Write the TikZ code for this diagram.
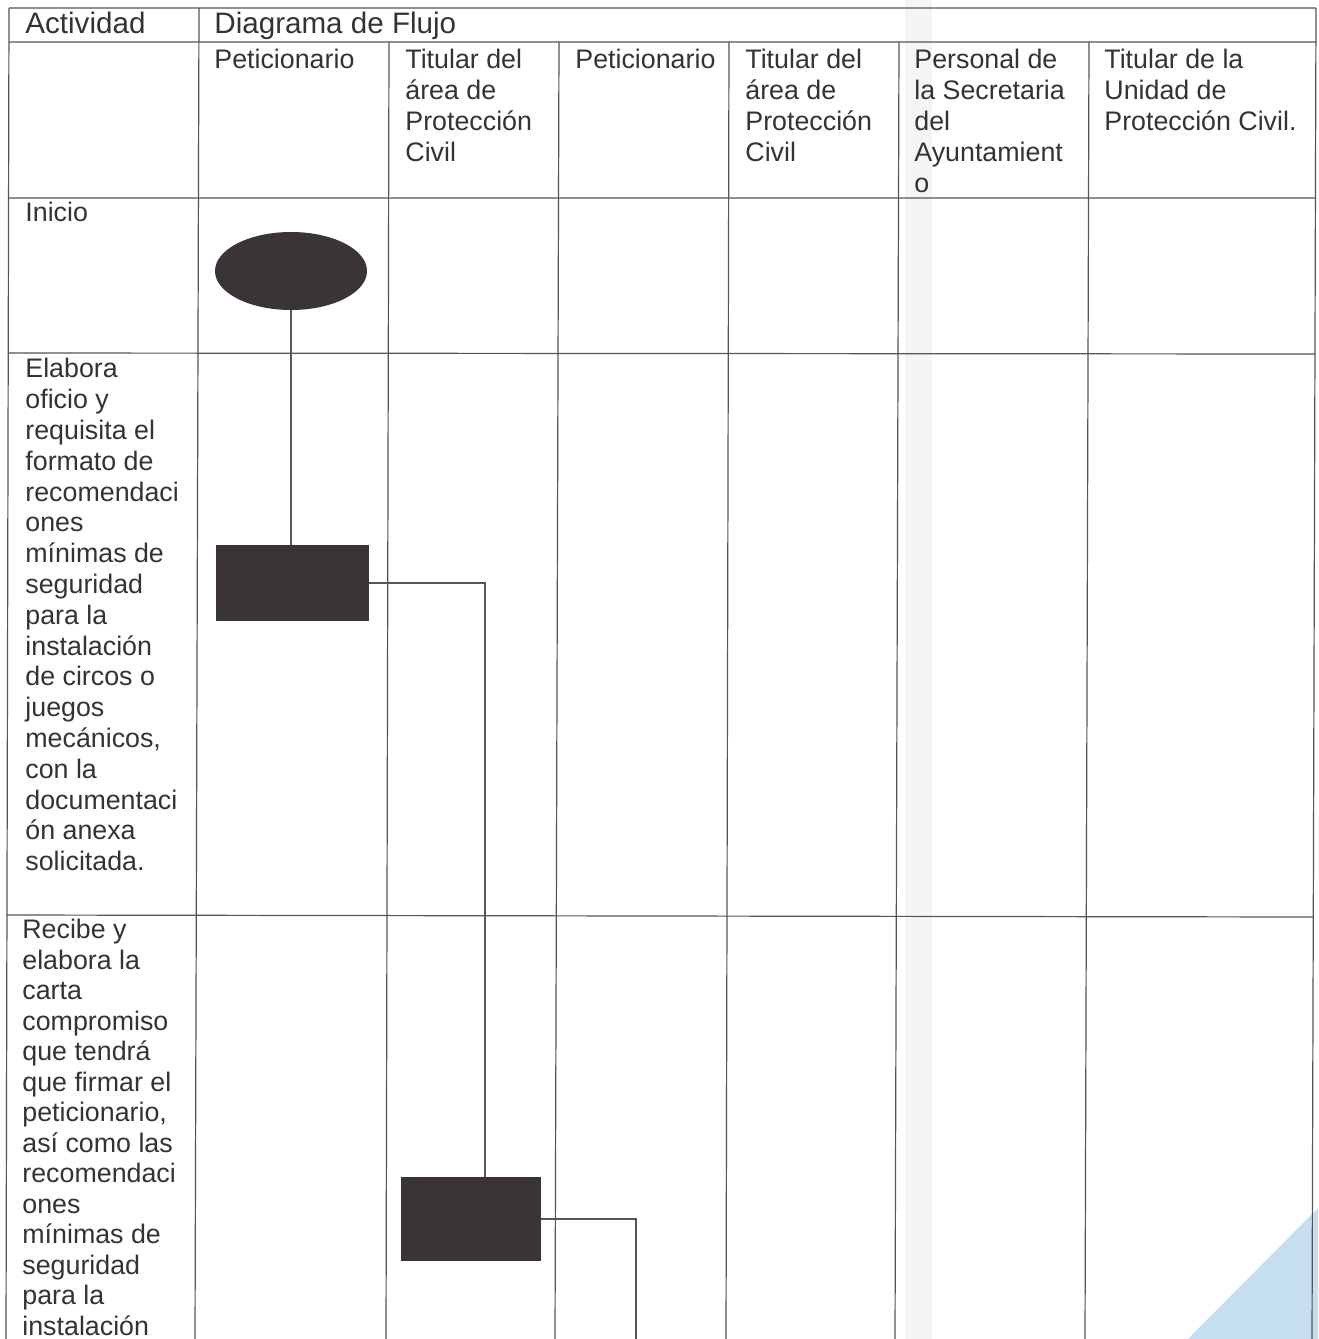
\documentclass[tikz,border=0pt]{standalone}
\usepackage{fontspec}
\setmainfont{Liberation Sans}
\usetikzlibrary{shapes.geometric}
\definecolor{tinta}{HTML}{333333}
\definecolor{raya}{HTML}{555555}
\definecolor{relleno}{HTML}{3B3436}
\definecolor{celeste}{HTML}{C6DFF0}
\begin{document}
\begin{tikzpicture}[x=0.5pt, y=-0.5pt,
    rejilla/.style={raya, line width=0.6pt},
    txt/.style={anchor=north west, inner sep=0pt, align=left, text=tinta,
        font=\fontsize{13.4}{15.4}\selectfont},
    titulo/.style={txt, font=\fontsize{14.8}{17}\selectfont},
    terminal/.style={ellipse, fill=relleno, minimum width=76pt, minimum height=39pt, inner sep=0pt},
    proceso/.style={rectangle, fill=relleno, inner sep=0pt},
    enlace/.style={raya, line width=0.6pt}]
    \useasboundingbox (0,0) rectangle (1318,1339);
    \fill[celeste] (1318,1208) -- (1318,1339) -- (1188,1339) -- cycle;
    \fill[black!4] (905,0) rectangle (932,1339);
    \draw[rejilla] (9,8) -- (1316,8) (9,42) -- (1316,42) (9,198) -- (1315,198)
        (8,353) -- (1315,354) (7,915) -- (1313,917);
    \foreach \xa/\xb in {9/6, 199/195, 1316/1312}
        \draw[rejilla] (\xa,8) -- (\xb,1339);
    \foreach \xa/\xb in {389/386, 559/555, 729/726, 899/895, 1089/1085}
        \draw[rejilla] (\xa,42) -- (\xb,1339);
    \node[titulo] (actividad) at (25,12) {Actividad};
    \node[titulo] (diagrama) at (214,12) {Diagrama de Flujo};
    \node[txt] (carril1) at (214,49) {Peticionario};
    \node[txt] (carril2) at (405,49) {Titular del\\área de\\Protección\\Civil};
    \node[txt] (carril3) at (575,49) {Peticionario};
    \node[txt] (carril4) at (745,49) {Titular del\\área de\\Protección\\Civil};
    \node[txt] (carril5) at (914,49) {Personal de\\la Secretaria\\del\\Ayuntamient\\o};
    \node[txt] (carril6) at (1104,49) {Titular de la\\Unidad de\\Protección Civil.};
    \node[txt] (act1) at (25,202) {Inicio};
    \node[txt] (act2) at (25,358) {Elabora\\oficio y\\requisita el\\formato de\\recomendaci\\ones\\mínimas de\\seguridad\\para la\\instalación\\de circos o\\juegos\\mecánicos,\\con la\\documentaci\\ón anexa\\solicitada.};
    \node[txt, font=\fontsize{13.4}{15.25}\selectfont] (act3) at (22,919) {Recibe y\\elabora la\\carta\\compromiso\\que tendrá\\que firmar el\\peticionario,\\así como las\\recomendaci\\ones\\mínimas de\\seguridad\\para la\\instalación};
    \node[terminal] (inicio) at (291,271) {};
    \node[proceso, minimum width=76.5pt, minimum height=38pt] (oficio) at (292.5,583) {};
    \node[proceso, minimum width=70pt, minimum height=42pt] (carta) at (471,1219) {};
    \coordinate (sigue) at (636,1339);
    \draw[enlace] (inicio.south) -- (inicio.south |- oficio.north);
    \draw[enlace] (oficio.east) -| ([xshift=7pt]carta.north);
    \draw[enlace] (carta.east) -| (sigue);
\end{tikzpicture}
\end{document}
